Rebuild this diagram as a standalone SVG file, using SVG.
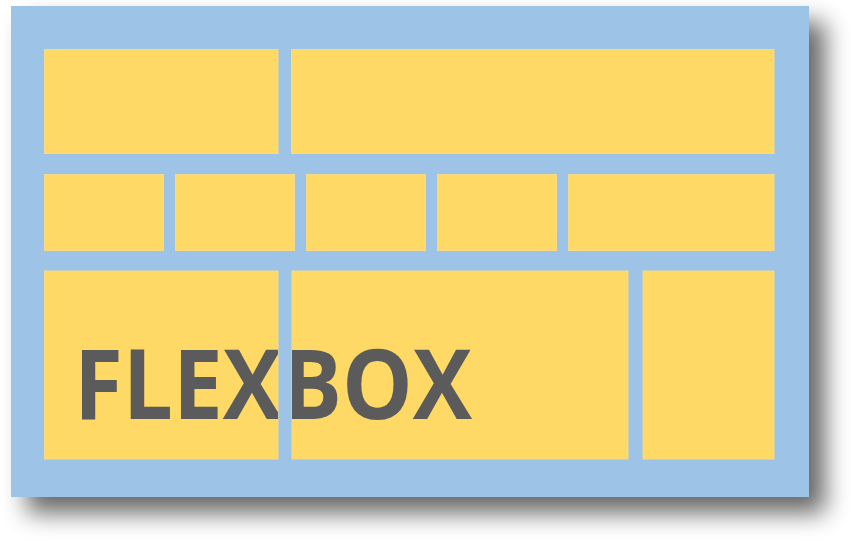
<svg xmlns="http://www.w3.org/2000/svg" width="851" height="552" viewBox="0 0 851 552">
  <style>
    .bg { fill: #9DC3E6; }
    .box { fill: #FFD966; stroke: #F6DA8C; stroke-width: 1; }
    .title { font-family: "Open Sans", "DejaVu Sans", sans-serif; font-weight: bold; font-size: 97px; fill: #5B5B5B; }
  </style>
  <defs>
    <filter id="shadow" x="-10%" y="-10%" width="130%" height="135%">
      <feGaussianBlur in="SourceAlpha" stdDeviation="12"/>
      <feOffset dx="16" dy="16" result="b"/>
      <feComponentTransfer><feFuncA type="linear" slope="0.6"/></feComponentTransfer>
      <feMerge><feMergeNode/><feMergeNode in="SourceGraphic"/></feMerge>
    </filter>
    <clipPath id="row3clip">
      <rect x="44" y="271" width="234" height="188"/>
      <rect x="292" y="271" width="336" height="188"/>
      <rect x="643" y="271" width="131" height="188"/>
    </clipPath>
  </defs>
  <rect width="851" height="552" fill="#ffffff"/>
  <g id="container">
    <rect class="bg" x="11" y="6" width="798" height="491" filter="url(#shadow)"/>
  </g>
  <g id="row1">
    <rect id="r1b1" class="box" x="44.5" y="49.5" width="233.5" height="104"/>
    <rect id="r1b2" class="box" x="291.5" y="49.5" width="482.5" height="104"/>
  </g>
  <g id="row2">
    <rect id="r2b1" class="box" x="44.5" y="174.5" width="119" height="76"/>
    <rect id="r2b2" class="box" x="175.5" y="174.5" width="119" height="76"/>
    <rect id="r2b3" class="box" x="306.5" y="174.5" width="119" height="76"/>
    <rect id="r2b4" class="box" x="437.5" y="174.5" width="119" height="76"/>
    <rect id="r2b5" class="box" x="568.5" y="174.5" width="205.5" height="76"/>
  </g>
  <g id="row3">
    <rect id="r3b1" class="box" x="44.5" y="271" width="233.5" height="188"/>
    <rect id="r3b2" class="box" x="292" y="271" width="336" height="188"/>
    <rect id="r3b3" class="box" x="643" y="271" width="131" height="188"/>
  </g>
  <g id="label">
    <text class="title" x="74" y="419" textLength="398" lengthAdjust="spacingAndGlyphs" clip-path="url(#row3clip)">FLEXBOX</text>
  </g>
</svg>
